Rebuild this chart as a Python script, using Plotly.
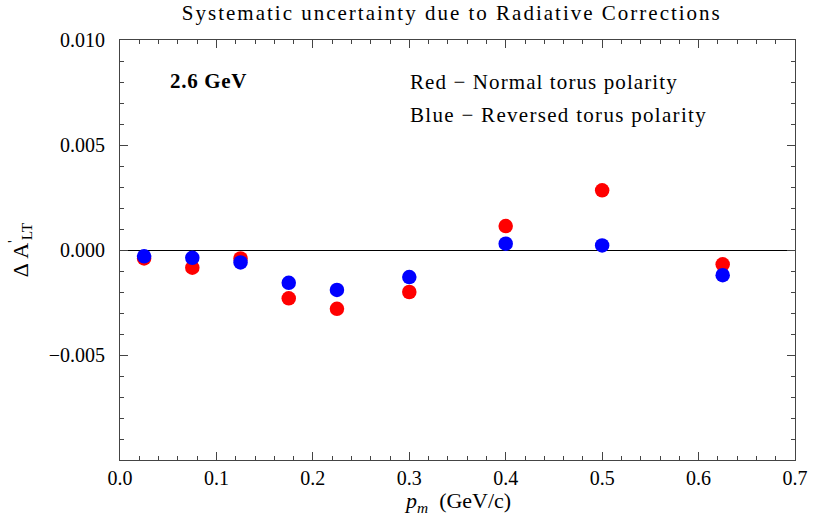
import plotly.graph_objects as go

# Missing momentum bins (GeV/c)
p_m = [0.025, 0.075, 0.125, 0.175, 0.225, 0.3, 0.4, 0.5, 0.625]

# Systematic shift of A'_LT from radiative corrections
dA_normal = [-0.0004, -0.00084, -0.0004, -0.0023, -0.0028, -0.0020, 0.00114, 0.00284, -0.00068]
dA_reversed = [-0.0003, -0.00037, -0.00059, -0.00156, -0.0019, -0.00129, 0.0003, 0.00022, -0.0012]

FONT = "Liberation Serif, Times New Roman, serif"


def spaced(text, px):
    return f'<span style="letter-spacing:{px}px">{text}</span>'


fig = go.Figure()
fig.add_trace(go.Scatter(x=p_m, y=dA_normal, mode="markers",
                         marker=dict(color="#ff0000", size=14.5, line=dict(width=0)),
                         name="Normal"))
fig.add_trace(go.Scatter(x=p_m, y=dA_reversed, mode="markers",
                         marker=dict(color="#0000ff", size=14.5, line=dict(width=0)),
                         name="Reversed"))

axis_common = dict(showgrid=False, showline=True, linecolor="#444", linewidth=1,
                   mirror="ticks", ticks="inside", ticklen=8, tickcolor="#444",
                   tickfont=dict(family=FONT, size=20, color="black"))

fig.update_xaxes(range=[0, 0.7], dtick=0.1, tickformat=".1f", zeroline=False,
                 minor=dict(dtick=0.02, ticks="inside", ticklen=4, tickcolor="#444"),
                 **axis_common)
fig.update_yaxes(range=[-0.010, 0.010], tickvals=[-0.005, 0.0, 0.005, 0.010],
                 ticktext=["\u22120.005", "0.000", "0.005", "0.010"],
                 ticklabelstandoff=10,
                 zeroline=True, zerolinecolor="black", zerolinewidth=1,
                 minor=dict(dtick=0.001, ticks="inside", ticklen=4, tickcolor="#444"),
                 title=dict(text="\u0394 A<sup>'</sup><sub>LT</sub>",
                            font=dict(family=FONT, size=22, color="black"), standoff=14),
                 **axis_common)

# x-axis label placed just below the tick labels
fig.add_annotation(x=0.5, y=-0.1, xref="paper", yref="paper", yanchor="middle",
                   text="<i>p<sub>m</sub></i>  (GeV/c)", showarrow=False,
                   font=dict(family=FONT, size=22, color="black"))

fig.add_annotation(x=0.0498, y=0.00805, xref="x", yref="y", text=spaced("2.6 GeV", 0.7),
                   showarrow=False, xanchor="left",
                   font=dict(family=FONT, size=21, color="black", weight=600))
fig.add_annotation(x=0.2987, y=0.0080, xref="x", yref="y",
                   text=spaced("Red \u2212 Normal torus polarity", 1.1),
                   showarrow=False, xanchor="left", font=dict(family=FONT, size=21, color="black"))
fig.add_annotation(x=0.2987, y=0.00643, xref="x", yref="y",
                   text=spaced("Blue \u2212 Reversed torus polarity", 1.3),
                   showarrow=False, xanchor="left", font=dict(family=FONT, size=21, color="black"))

fig.update_layout(
    width=823, height=523,
    margin=dict(l=120, r=28, t=40, b=63),
    paper_bgcolor="white", plot_bgcolor="white",
    showlegend=False,
    title=dict(text=spaced("Systematic uncertainty due to Radiative Corrections", 2.0),
               x=0.549, xanchor="center", y=0.99, yanchor="top",
               font=dict(family=FONT, size=21, color="black")),
)

fig.write_html("out.html")
